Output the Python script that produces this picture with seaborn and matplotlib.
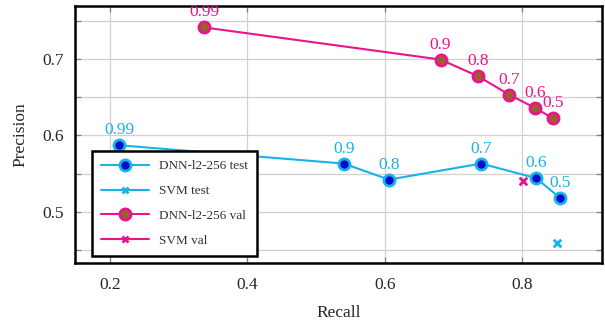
import matplotlib
matplotlib.use("Agg")
import matplotlib.pyplot as plt
import seaborn as sns
import pandas as pd
from matplotlib.ticker import MultipleLocator
from matplotlib.lines import Line2D

thresholds = ["0.99", "0.9", "0.8", "0.7", "0.6", "0.5"]
dnn_test_recall = [0.213, 0.540, 0.606, 0.740, 0.820, 0.855]
dnn_test_precision = [0.587, 0.563, 0.542, 0.563, 0.544, 0.518]
dnn_val_recall = [0.337, 0.681, 0.736, 0.781, 0.818, 0.845]
dnn_val_precision = [0.741, 0.699, 0.677, 0.653, 0.636, 0.622]
svm_test_recall = [0.851]
svm_test_precision = [0.459]
svm_val_recall = [0.801]
svm_val_precision = [0.540]

CYAN = "#19b2e8"
BLUE = "#0a0acc"
MAG = "#e8158c"
BROWN = "#9a6030"

sns.set_theme(style="white")
plt.rcParams["font.family"] = ["Liberation Serif", "DejaVu Serif"]

fig = plt.figure(figsize=(6.05, 3.2), dpi=100)
ax = fig.add_axes([75/605, 1 - 263/320, (602-75)/605, (263-6)/320])

df_test = pd.DataFrame({"Recall": dnn_test_recall, "Precision": dnn_test_precision})
df_val = pd.DataFrame({"Recall": dnn_val_recall, "Precision": dnn_val_precision})

sns.lineplot(data=df_test, x="Recall", y="Precision", sort=False, ax=ax, color=CYAN,
             lw=1.5, marker="o", markersize=8, markerfacecolor=BLUE,
             markeredgecolor=CYAN, markeredgewidth=2, zorder=3)
sns.lineplot(data=df_val, x="Recall", y="Precision", sort=False, ax=ax, color=MAG,
             lw=1.5, marker="o", markersize=8, markerfacecolor=BROWN,
             markeredgecolor=MAG, markeredgewidth=2, zorder=3)
sns.scatterplot(x=svm_test_recall, y=svm_test_precision, ax=ax, marker="x",
                color=CYAN, s=30, linewidth=2, zorder=3)
sns.scatterplot(x=svm_val_recall, y=svm_val_precision, ax=ax, marker="x",
                color=MAG, s=30, linewidth=2, zorder=3)

for t, x, y in zip(thresholds, dnn_test_recall, dnn_test_precision):
    ax.annotate(t, (x, y), xytext=(0, 5), textcoords="offset points",
                ha="center", va="bottom", color=CYAN, fontsize=12.5)
for t, x, y in zip(thresholds, dnn_val_recall, dnn_val_precision):
    ax.annotate(t, (x, y), xytext=(0, 5), textcoords="offset points",
                ha="center", va="bottom", color=MAG, fontsize=12.5)

ax.set_xlim(0.149, 0.916)
ax.set_ylim(0.433, 0.769)
ax.set_xticks([0.2, 0.4, 0.6, 0.8])
ax.set_yticks([0.5, 0.6, 0.7])
ax.yaxis.set_minor_locator(MultipleLocator(0.05))
ax.grid(True, which="major", color="#d0d0d0", lw=0.9)
ax.grid(True, which="minor", axis="y", color="#d0d0d0", lw=0.9)
ax.tick_params(which="both", direction="in", length=4, width=0.9, color="#808080",
               top=True, right=True, bottom=True, left=True, labelsize=12.5)
ax.tick_params(axis="x", pad=10)
ax.tick_params(axis="y", pad=8)
for s in ax.spines.values():
    s.set_color("black")
    s.set_linewidth(1.8)
ax.set_xlabel("Recall", fontsize=12.5, labelpad=9)
ax.set_ylabel("Precision", fontsize=12.5, labelpad=10)

handles = [
    Line2D([], [], color=CYAN, lw=1.5, marker="o", markersize=8, markerfacecolor=BLUE,
           markeredgecolor=CYAN, markeredgewidth=2),
    Line2D([], [], color=CYAN, lw=1.5, marker="x", markersize=5, markeredgewidth=2),
    Line2D([], [], color=MAG, lw=1.5, marker="o", markersize=8, markerfacecolor=BROWN,
           markeredgecolor=MAG, markeredgewidth=2),
    Line2D([], [], color=MAG, lw=1.5, marker="x", markersize=5, markeredgewidth=2),
]
labels = ["DNN-l2-256 test", "SVM test", "DNN-l2-256 val", "SVM val"]
leg = ax.legend(handles, labels, loc="lower left", bbox_to_anchor=(17/527, 7/257),
                borderaxespad=0, fontsize=9.5, frameon=True, fancybox=False,
                edgecolor="black", framealpha=1, handlelength=3.6, labelspacing=0.95,
                borderpad=0.7, handletextpad=0.8)
leg.get_frame().set_linewidth(1.8)
for t in leg.get_texts():
    t.set_color("#333333")

fig.savefig("out.png", dpi=100)
